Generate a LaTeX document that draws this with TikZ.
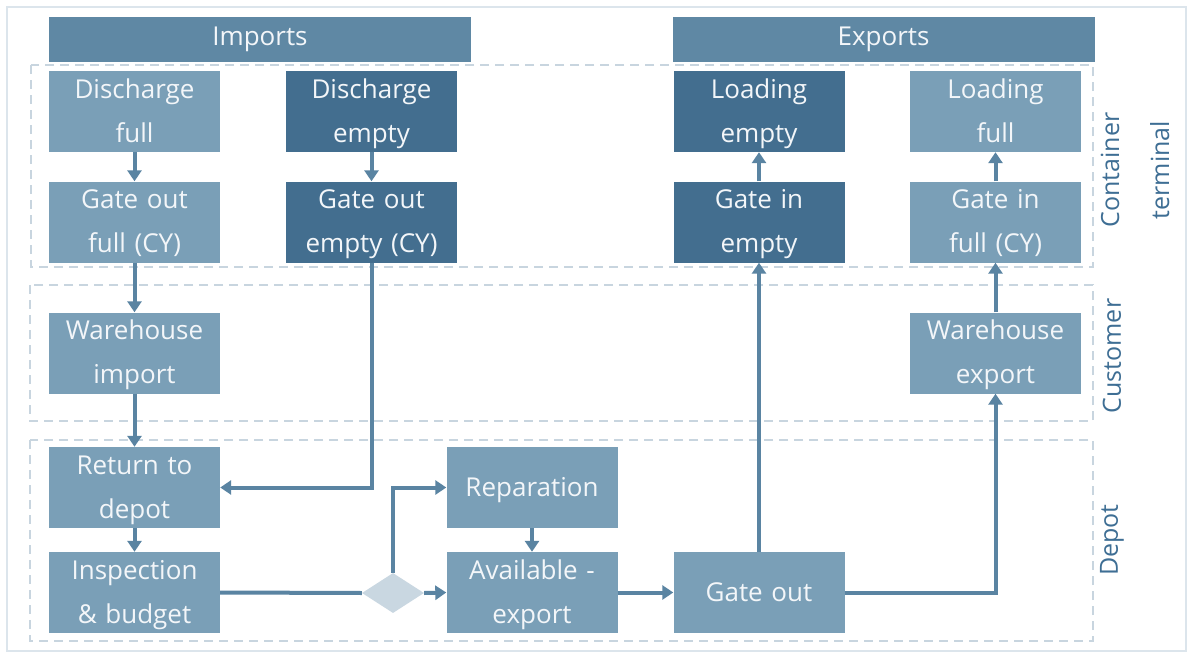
\documentclass[tikz,border=0pt]{standalone}
\usepackage{fontspec}
\setmainfont{Open Sans}
\usetikzlibrary{arrows.meta,shapes.geometric}
\definecolor{lightbox}{HTML}{7A9FB7}
\definecolor{darkbox}{HTML}{436E8F}
\definecolor{headbox}{HTML}{5F88A4}
\definecolor{conncol}{HTML}{5A84A2}
\definecolor{zonecol}{HTML}{C8D5DF}
\definecolor{framecol}{HTML}{DCE5EC}
\definecolor{diacol}{HTML}{C9D7E1}
\definecolor{labcol}{HTML}{3E6E94}
\definecolor{boxtext}{HTML}{F3F6F9}
\newcommand{\topst}{\rule{0pt}{24pt}}
\newcommand{\botst}{\rule[-7pt]{0pt}{7pt}}
\begin{document}
\begin{tikzpicture}[x=1pt,y=-1pt,
  box/.style={rectangle, inner sep=0pt, minimum width=171pt, minimum height=81pt,
    text width=171pt, align=center, text=boxtext,
    font=\fontsize{26}{44}\selectfont,
    execute at begin node=\topst, execute at end node=\botst},
  lbox/.style={box, fill=lightbox},
  dbox/.style={box, fill=darkbox},
  hbox/.style={rectangle, inner sep=0pt, minimum width=422pt, minimum height=45pt,
    fill=headbox, text=boxtext, font=\fontsize{26}{30}\selectfont},
  conn/.style={draw=conncol, line width=4pt, -{Triangle[length=11pt,width=14pt]}},
  plain/.style={draw=conncol, line width=4pt},
  zone/.style={draw=zonecol, line width=2.5pt, dash pattern=on 9pt off 6pt},
  lab/.style={text=labcol, font=\fontsize{25}{50}\selectfont, align=center, rotate=90}
]
\useasboundingbox (0,0) rectangle (1187,653);
\fill[white] (0,0) rectangle (1187,653);
\draw[draw=framecol, line width=1.5pt] (7,7) rectangle (1186,651);

% zones
\draw[zone] (31,65) rectangle (1093,267);
\draw[zone] (30,285) rectangle (1093,421);
\draw[zone] (30,440) rectangle (1093,641);

% headers
\node[hbox] (imp) at (260,39.5) {Imports};
\node[hbox] (exp) at (883.5,39.5) {Exports};

% boxes
\node[lbox] (df) at (134.5,111.5) {Discharge\\full};
\node[dbox] (de) at (371.5,111.5) {Discharge\\empty};
\node[lbox] (gof) at (134.5,222) {Gate out\\full (CY)};
\node[dbox] (goe) at (371.5,222) {Gate out\\empty (CY)};
\node[dbox] (le) at (759,111.5) {Loading\\empty};
\node[lbox] (lf) at (995.5,111.5) {Loading\\full};
\node[dbox] (gie) at (759,222) {Gate in\\empty};
\node[lbox] (gif) at (995.5,222) {Gate in\\full (CY)};
\node[lbox] (wi) at (134.5,353) {Warehouse\\import};
\node[lbox] (we) at (995.5,353) {Warehouse\\export};
\node[lbox] (rd) at (134.5,487.5) {Return to\\depot};
\node[lbox] (ib) at (134.5,592.5) {Inspection\\\&{} budget};
\node[lbox] (rep) at (532,487.5) {Reparation};
\node[lbox] (av) at (532,592.5) {Available -\\export};
\node[lbox] (go) at (759,592.5) {Gate out};
\node[diamond, fill=diacol, inner sep=0pt, minimum width=62pt, minimum height=40pt] (dia) at (393,593) {};

% labels
\node[lab] (ct) at (1135,170) {Container\\terminal};
\node[lab] (cu) at (1112,356) {Customer};
\node[lab] (dp) at (1112,540) {Depot};

% connectors
\draw[conn] (df) -- (gof);
\draw[conn] (de) -- (goe);
\draw[conn] (gof) -- (wi);
\draw[conn] (wi) -- (rd);
\draw[conn] (rd) -- (ib);
\draw[conn] (goe.south) |- (rd.east);
\draw[plain] (ib.east) -- (dia.west);
\draw[conn] (dia.east) -- (av.west);
\draw[conn] (dia.north) |- (rep.west);
\draw[conn] (rep) -- (av);
\draw[conn] (av) -- (go);
\draw[conn] (go) -- (gie);
\draw[conn] (gie) -- (le);
\draw[conn] (go.east) -| (we.south);
\draw[conn] (we) -- (gif);
\draw[conn] (gif) -- (lf);
\end{tikzpicture}
\end{document}
